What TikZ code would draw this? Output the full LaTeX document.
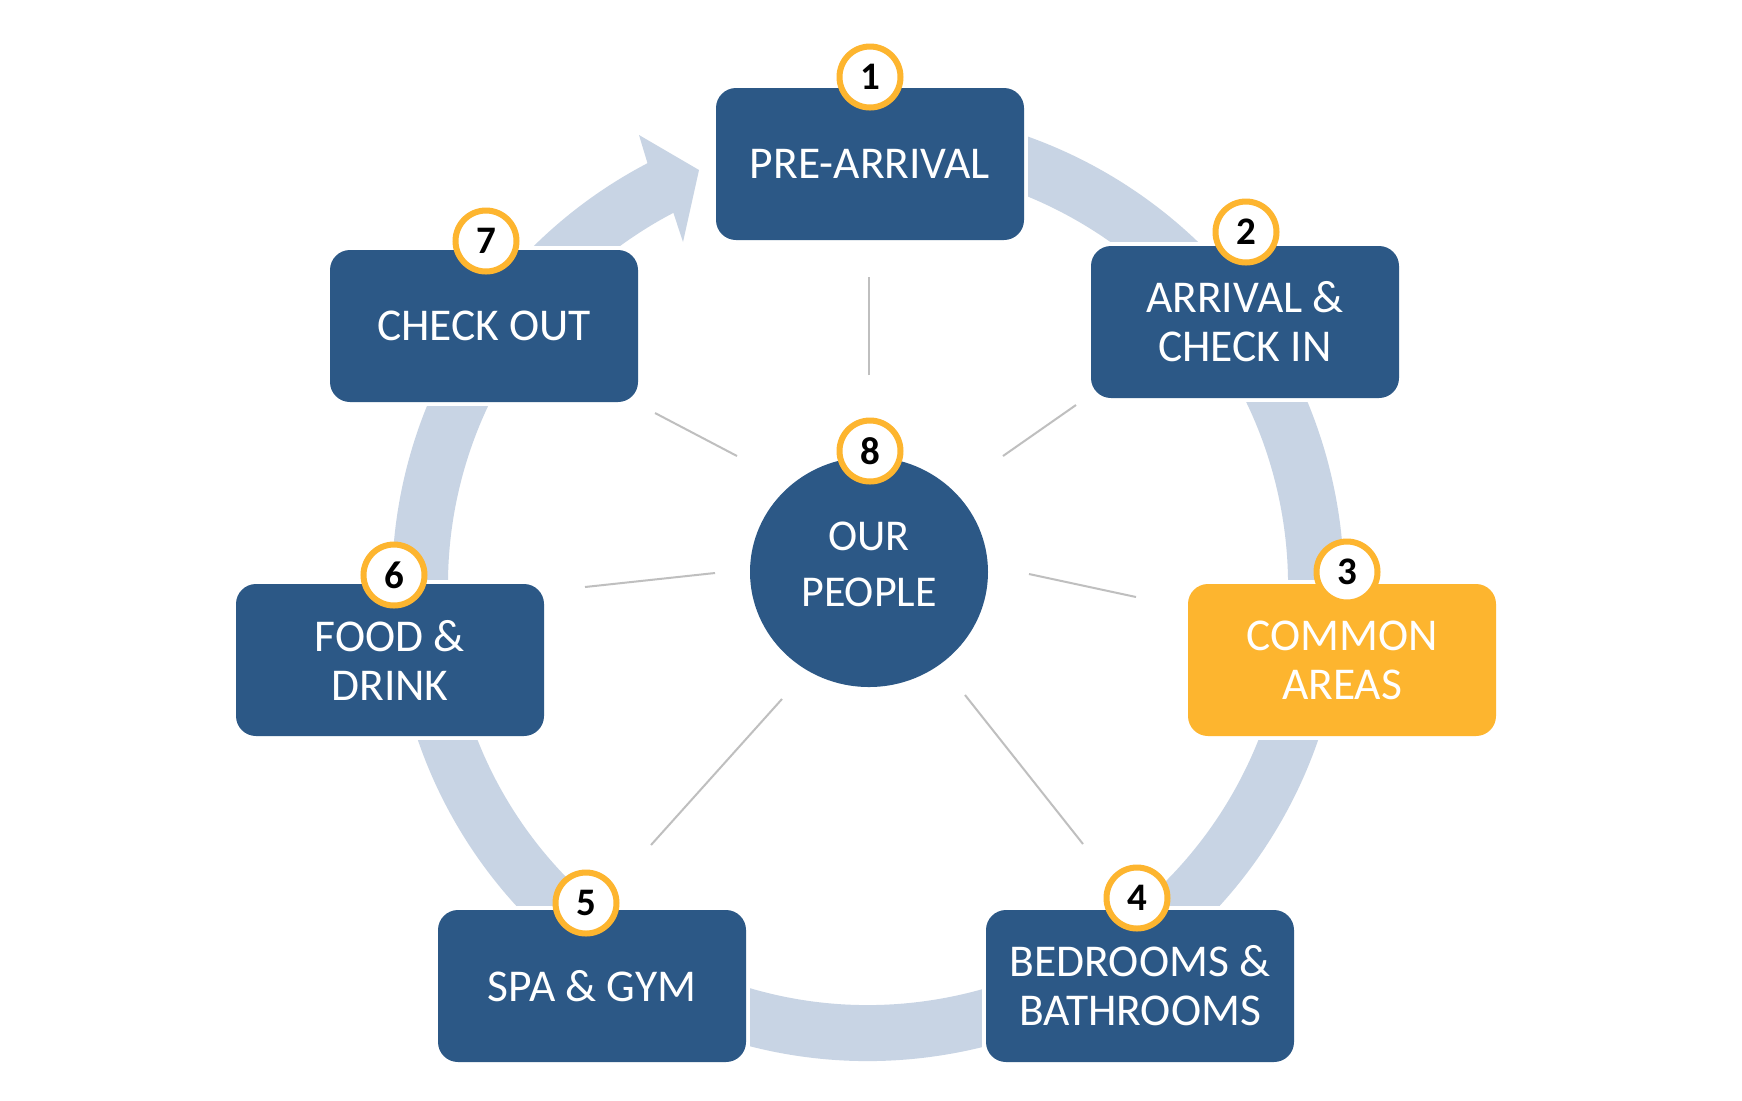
\documentclass[tikz,border=0pt]{standalone}
\usepackage{fontspec}
\setmainfont{Carlito}
\usetikzlibrary{shapes.geometric}
\definecolor{boxblue}{HTML}{2C5886}
\definecolor{amber}{HTML}{FDB52F}
\definecolor{ringblue}{HTML}{C8D4E4}
\definecolor{spokegray}{HTML}{BFBFBF}
\begin{document}
\begin{tikzpicture}[x=0.5pt,y=-0.5pt,
  stepbox/.style={rounded corners=10pt, minimum width=154pt, minimum height=76pt, inner sep=0pt, align=center, text=white, font=\fontsize{22.75}{24.5}\selectfont},
  bluebox/.style={stepbox, fill=boxblue},
  ambbox/.style={stepbox, fill=amber},
  gapmask/.style={fill=white, minimum width=158pt, minimum height=80pt, inner sep=0pt},
  badge/.style={circle, draw=amber, line width=3pt, fill=white, minimum size=30.5pt, inner sep=0pt, text=black, font=\fontsize{19.5}{21}\selectfont\bfseries},
  spoke/.style={draw=spokegray, line width=1pt}]
\useasboundingbox (0,0) rectangle (1742,1100);
\fill[white] (0,0) rectangle (1742,1100);
% ring
\coordinate (rc) at (868,585);
\begin{scope}[shift={(rc)}, x=1pt, y=1pt]
  \draw[ringblue, line width=28pt] (100:224) arc[start angle=100, end angle=-243.5, radius=224];
\end{scope}
% arrow head
\coordinate (ahA) at (647.5,163.2);
\coordinate (ahW1) at (639,135);
\coordinate (ahTip) at (699,170);
\coordinate (ahW2) at (683,242);
\coordinate (ahB) at (673.4,212.8);
\fill[ringblue] (ahA) -- (ahW1) -- (ahTip) -- (ahW2) -- (ahB) -- cycle;
% gaps around boxes
\node[gapmask] (m1) at (870,164) {};
\node[gapmask] (m2) at (1245,322) {};
\node[gapmask] (m3) at (1342,660) {};
\node[gapmask] (m4) at (1140,986) {};
\node[gapmask] (m5) at (592,986) {};
\node[gapmask] (m6) at (390,660) {};
\node[gapmask] (m7) at (484,326) {};
% spokes
\coordinate (s1a) at (869,375); \coordinate (s1b) at (869,277);
\coordinate (s2a) at (1003,456); \coordinate (s2b) at (1076,405);
\coordinate (s3a) at (1029,574); \coordinate (s3b) at (1136,597);
\coordinate (s4a) at (965,695); \coordinate (s4b) at (1083,844);
\coordinate (s5a) at (782,699); \coordinate (s5b) at (651,845);
\coordinate (s6a) at (715,573); \coordinate (s6b) at (585,587);
\coordinate (s7a) at (737,456); \coordinate (s7b) at (655,413);
\foreach \i in {1,...,7} { \draw[spoke] (s\i a) -- (s\i b); }
% boxes
\node[bluebox] (b1) at (870,164) {PRE-ARRIVAL};
\node[bluebox] (b2) at (1245,322) {ARRIVAL \&\\CHECK IN};
\node[ambbox] (b3) at (1342,660) {COMMON\\AREAS};
\node[bluebox] (b4) at (1140,986) {BEDROOMS \&\\BATHROOMS};
\node[bluebox] (b5) at (592,986) {SPA \& GYM};
\node[bluebox] (b6) at (390,660) {FOOD \&\\DRINK};
\node[bluebox] (b7) at (484,326) {CHECK OUT};
% center
\node[ellipse, fill=boxblue, minimum width=119pt, minimum height=115pt, inner sep=0pt] (people) at (869,572) {};
\node[align=center, text=white, inner sep=0pt, font=\fontsize{22}{28}\selectfont] (peopletxt) at (869,564) {OUR\\PEOPLE};
% badges
\node[badge] (n1) at (870,77) {1};
\node[badge] (n2) at (1246,232) {2};
\node[badge] (n3) at (1347,572) {3};
\node[badge] (n4) at (1137,898) {4};
\node[badge] (n5) at (586,903) {5};
\node[badge] (n6) at (394,575) {6};
\node[badge] (n7) at (486,241) {7};
\node[badge] (n8) at (870,451) {8};
\end{tikzpicture}
\end{document}
